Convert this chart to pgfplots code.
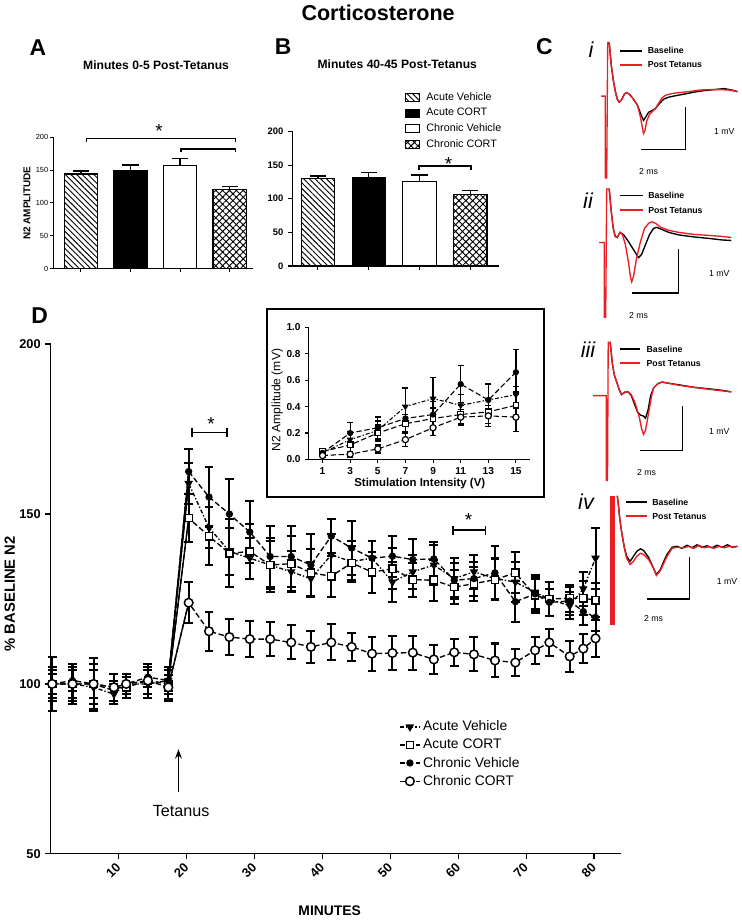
\documentclass[border=0pt]{standalone}
\usepackage{fontspec}
\setmainfont{Liberation Sans}
\usepackage{pgfplots}
\usepackage{pgfplotstable}
\pgfplotsset{compat=1.18}
\usetikzlibrary{patterns.meta,arrows.meta}
\definecolor{tred}{RGB}{235,30,35}
\newcommand{\fs}[1]{\fontsize{#1}{#1}\selectfont}

% ---------- Panel D data (minutes, % baseline, SEM) ----------
\pgfplotstableread{
t v e
0.2 100 5
3.2 100 4
6.3 99 7
9.3 97 3
11.1 100 3
14.3 100 4
17.3 101 4
20.3 159 6
23.3 146 6
26.3 139 7
29.3 137 6
32.3 135 7
35.4 133 6
38.3 131 5
41.3 138 6
44.3 136 6
47.3 137 5
50.3 130 6
53.3 133 5
56.4 135 6
59.4 131 6
62.3 133 5
65.4 131 6
68.4 130 6
71.3 127 5
73.4 125 5
76.4 123 4
78.4 128 5
80.2 137 9
}\dAV
\pgfplotstableread{
t v e
0.2 100 4
3.2 100 5
6.3 100 6
9.3 99 4
11.1 99 3
14.3 101 5
17.3 100 5
20.3 148.8 7
23.3 143.5 8.5
26.3 138.4 10
29.3 139 8
32.3 135 8
35.4 135.4 8
38.3 132.7 7
41.3 131.7 6
44.3 135.6 5
47.3 132.9 6
50.3 133.9 6
53.3 130.7 5
56.4 130.5 6
59.4 128.5 5
62.3 129.5 5
65.4 130.7 6
68.4 132.7 6
71.3 126 5
73.4 125 5
76.4 125.2 4
78.4 125.2 5
80.2 124.7 5
}\dAC
\pgfplotstableread{
t v e
0.2 100 3
3.2 101 3
6.3 100 4
9.3 98 3
11.1 100 2
14.3 102 3
17.3 101 3
20.3 162.5 6.6
23.3 155 8.8
26.3 150 10.4
29.3 144.7 9
32.3 137.5 9
35.4 137.5 9
38.3 135 9
41.3 143.5 5
44.3 140 8
47.3 137 5
50.3 137.6 6
53.3 136.6 6
56.4 136.8 5
59.4 130.5 5
62.3 131 5
65.4 132.7 8
68.4 124.2 6
71.3 126.5 5
73.4 124 4
76.4 124.4 4
78.4 121.3 4
80.2 119.6 4
}\dCV
\pgfplotstableread{
t v e
0.2 100 8
3.2 100 6
6.3 100 7.5
9.3 99 4
11.1 100 3
14.3 101 4
17.3 99 3.5
20.3 123.9 6
23.3 115.5 5.8
26.3 113.8 5.2
29.3 113.2 5.3
32.3 113.2 5
35.4 112.2 5
38.3 110.9 4.7
41.3 112.2 5.3
44.3 110.9 4.2
47.3 108.9 5
50.3 109.1 5
53.3 109.2 5
56.4 107.2 4.4
59.4 109.3 4
62.3 108.7 5
65.4 106.9 5
68.4 106.3 4
71.3 109.9 4
73.4 112.2 4.1
76.4 108.1 4.6
78.4 110.4 4.2
80.2 113.4 5.5
}\dCC

% ---------- Inset data (V, mV, SEM) ----------
\pgfplotstableread{
t v e
1 0.05 0.02
3 0.15 0.06
5 0.22 0.07
7 0.40 0.14
9 0.46 0.16
11 0.41 0.08
13 0.45 0.12
15 0.49 0.06
}\iAV
\pgfplotstableread{
t v e
1 0.06 0.02
3 0.11 0.05
5 0.20 0.06
7 0.27 0.07
9 0.31 0.08
11 0.34 0.07
13 0.36 0.09
15 0.41 0.10
}\iAC
\pgfplotstableread{
t v e
1 0.05 0.02
3 0.20 0.08
5 0.24 0.08
7 0.31 0.10
9 0.34 0.10
11 0.57 0.14
13 0.45 0.12
15 0.66 0.17
}\iCV
\pgfplotstableread{
t v e
1 0.03 0.01
3 0.04 0.02
5 0.08 0.03
7 0.15 0.05
9 0.24 0.06
11 0.32 0.06
13 0.33 0.08
15 0.32 0.11
}\iCC

\pgfplotsset{
  errb/.style={error bars/y dir=both, error bars/y explicit,
    error bars/error bar style={solid,line width=1.5pt,black},
    error bars/error mark options={solid,rotate=90,mark size=3.3pt,line width=1.5pt,black}},
  errs/.style={error bars/y dir=both, error bars/y explicit,
    error bars/error bar style={solid,line width=1pt,black},
    error bars/error mark options={solid,rotate=90,mark size=2.2pt,line width=1pt,black}},
  barerr/.style={error bars/y dir=plus, error bars/y explicit,
    error bars/error bar style={line width=1.1pt,black},
    error bars/error mark options={rotate=90,mark size=6pt,line width=1.1pt,black}},
  avbar/.style={draw=black, line width=0.8pt, pattern={Lines[angle=-45,distance=3pt,line width=0.7pt]}},
  acbar/.style={draw=black, line width=0.8pt, fill=black},
  cvbar/.style={draw=black, line width=0.8pt, fill=white},
  ccbar/.style={draw=black, line width=0.8pt, pattern={Hatch[angle=45,distance=3.6pt,line width=0.7pt]}},
}

\begin{document}
\begin{tikzpicture}
% ================= canvas (pixel coordinates) =================
\begin{axis}[at={(0pt,0pt)}, anchor=south west, scale only axis,
  width=554.25pt, height=690pt, xmin=0, xmax=739, ymin=0, ymax=920,
  y dir=reverse, hide axis, clip=false]
% --- trace i ---
\addplot[black, line width=1pt] coordinates {(606,48)(608,70)(610,85)(612,96)(614,104)(616,107)(618,105)(621,99)(623,97.5)(626,99)(630,104)(634,110)(637,118)(640,125)(642,122)(645,117)(649,115)(652,113)(656,108)(660,104)(665,102)(672,100.5)(680,99)(690,97)(700,95.5)(710,94.5)(720,93.5)(728,95)(733,96.5)};
\addplot[tred, line width=1pt] coordinates {(598,101)(602,101)(602,182)(603.5,182)(604.5,48)(606,48)(608,70)(610,85)(612,96)(614,104)(616,107)(618,105)(621,99)(623,97.5)(626,99)(630,104)(634,110)(637,122)(639,133)(640,138)(641.5,135)(643,126)(646,119)(649,116)(652,113)(655,108)(658,103)(662,100)(668,98.5)(675,97.5)(685,96.5)(695,95)(705,94.5)(715,94.5)(725,95)(733,96.5)};
\addplot[black, line width=0.9pt] coordinates {(637.7,154)(681.7,154)(681.7,112)};
\addplot[black, line width=1.2pt] coordinates {(616.7,56)(638.3,56)};
\addplot[tred, line width=1.2pt] coordinates {(616.7,70)(638.3,70)};
% --- trace ii ---
\addplot[black, line width=1pt] coordinates {(606,193)(608,215)(610,232)(612,240)(614,241)(616.7,236)(620,238)(625,245)(630,253)(635,261)(638,258)(642,248)(646,238)(650,232)(653,231)(658,233)(665,236)(675,238.5)(690,240.5)(705,242)(718,243.5)(727,244)};
\addplot[tred, line width=1pt] coordinates {(596,246)(601,246)(601,320)(602.5,320)(603.5,193)(606,193)(608,215)(610,232)(612,240)(614,241)(616.7,236)(619,238)(622,248)(625,265)(627,280)(628.3,285)(630,280)(633,262)(637,245)(641,232)(645,227)(648.3,225.5)(652,227)(657,231)(665,234)(675,236)(690,238)(705,239)(718,240)(727,241)};
\addplot[black, line width=0.9pt] coordinates {(629,296)(674.3,296)(674.3,252.7)};
\addplot[black, line width=1.2pt] coordinates {(617,199.3)(639,199.3)};
\addplot[tred, line width=1.2pt] coordinates {(617,214)(639,214)};
% --- trace iii ---
\addplot[black, line width=1pt] coordinates {(607,345)(609,365)(611,377)(613.3,384)(616,392)(618.3,396.7)(622,394)(625,394)(628,398)(631,406)(634,414)(637,417)(640,418)(642,420)(644.5,412)(647,398)(650,390)(654,386)(658.3,384.3)(665,385.5)(675,387)(690,389.5)(705,391)(718,392.5)(727,394)};
\addplot[tred, line width=1pt] coordinates {(590,397.7)(603,397.7)(603,481.7)(604.3,481.7)(605,345)(607,345)(609,365)(611,377)(613.3,384)(616,392)(618.3,396.7)(622,394)(625,394)(628,397)(632,406)(636,420)(638,430)(640,436)(642,432)(645,415)(648,398)(650,390)(654,386)(658.3,384.3)(665,385.5)(675,387.5)(690,389.5)(705,391.5)(718,393)(727,394)};
\addplot[black, line width=0.9pt] coordinates {(636.7,452.3)(678.3,452.3)(678.3,408.3)};
\addplot[black, line width=1.2pt] coordinates {(616.7,351.7)(636.7,351.7)};
\addplot[tred, line width=1.2pt] coordinates {(616.7,365.7)(636.7,365.7)};
% --- trace iv ---
\addplot[tred, line width=3.8pt] coordinates {(609.5,497)(609.5,625)};
\addplot[black, line width=1pt] coordinates {(614,497)(615,505)(616.5,520)(618.3,533)(621,548)(623.3,557)(626.7,562)(630,557)(633.3,552)(637,549.5)(640,551)(645,558)(650,569)(652.7,575)(656.7,570)(660,562)(663.3,555)(668.3,548)(673,547)(678,549)(683,546)(688,548.5)(693,545.5)(698,548)(703,546.5)(708,548.5)(713,546)(718,548)(723,545.5)(728,548)(733,547)};
\addplot[tred, line width=1pt] coordinates {(614,497)(615,505)(616.5,520)(618.3,533)(621,549)(623.3,559)(626.7,565)(630,562)(633.3,557)(637,554)(640,555)(645,560)(650,569)(652.7,576)(656.7,571)(660,564)(663.3,557)(668.3,549)(673,548)(680,548.5)(685,547)(690,549)(695,546)(700,548.5)(705,547.5)(710,549)(715,547)(720,548.5)(725,547)(730,548)(733,547)};
\addplot[black, line width=0.9pt] coordinates {(643.3,599.3)(685.7,599.3)(685.7,557.3)};
\addplot[black, line width=1.2pt] coordinates {(623,503.3)(643,503.3)};
\addplot[tred, line width=1.2pt] coordinates {(623,517.3)(643,517.3)};
% --- panel C texts ---
\begin{scope}[font=\bfseries\fs{6.5pt}]
\node[anchor=west] at (axis cs:639.5,56) {Baseline};
\node[anchor=west] at (axis cs:639.5,70) {Post Tetanus};
\node[anchor=west] at (axis cs:640,199.3) {Baseline};
\node[anchor=west] at (axis cs:640,214) {Post Tetanus};
\node[anchor=west] at (axis cs:638.3,351.7) {Baseline};
\node[anchor=west] at (axis cs:638.3,365.7) {Post Tetanus};
\node[anchor=west] at (axis cs:644,503.3) {Baseline};
\node[anchor=west] at (axis cs:644,517.3) {Post Tetanus};
\end{scope}
\begin{scope}[font=\fs{6.5pt}]
\node at (axis cs:720,136) {1 mV};
\node at (axis cs:645,175.7) {2 ms};
\node at (axis cs:715,277) {1 mV};
\node at (axis cs:635,318) {2 ms};
\node at (axis cs:715,433) {1 mV};
\node at (axis cs:643,474) {2 ms};
\node at (axis cs:722.7,581.7) {1 mV};
\node at (axis cs:650,618.3) {2 ms};
\end{scope}
\begin{scope}[font=\itshape\fs{16pt}]
\node at (axis cs:588,55) {i};
\node at (axis cs:585,205) {ii};
\node at (axis cs:585,352) {iii};
\node at (axis cs:583,503) {iv};
\end{scope}
% --- titles and panel letters ---
\node[font=\bfseries\fs{16pt}] at (axis cs:377,18) {Corticosterone};
\begin{scope}[font=\bfseries\fs{17pt}]
\node at (axis cs:40,53) {A};
\node at (axis cs:283,52) {B};
\node at (axis cs:541.7,51.7) {C};
\node at (axis cs:41.7,318.3) {D};
\end{scope}
\node[font=\bfseries\fs{9pt}] at (axis cs:157,70.7) {Minutes 0-5 Post-Tetanus};
\node[font=\bfseries\fs{9pt}] at (axis cs:396,69) {Minutes 40-45 Post-Tetanus};
\node[font=\bfseries\fs{7.4pt}, rotate=90] at (axis cs:29,207) {N2 AMPLITUDE};
\node[font=\bfseries\fs{11pt}, rotate=90] at (axis cs:12,594) {\% BASELINE N2};
\node[font=\bfseries\fs{10.3pt}] at (axis cs:329,908) {MINUTES};
% --- inset frame and labels ---
\draw[line width=1.6pt, fill=white] (axis cs:266.7,312.3) rectangle (axis cs:541.7,498.3);
\node[font=\bfseries\fs{8.5pt}] at (axis cs:418.3,485) {Stimulation Intensity (V)};
\node[font=\fs{9pt}, rotate=90] at (axis cs:277,402) {N2 Amplitude (mV)};
\end{axis}

% ================= Panel A =================
\begin{axis}[at={(41.25pt,486.2pt)}, anchor=south west, scale only axis,
  width=148.5pt, height=97.5pt, xmin=0.44, xmax=4.47, ymin=0, ymax=200,
  axis lines*=left, axis line style={line width=0.8pt}, tick align=outside,
  major tick length=2.5pt, tick style={line width=0.8pt,black},
  xtick={1,2,3,4}, xticklabels={}, ytick={0,50,100,150,200},
  yticklabel style={font=\fs{5.5pt}, inner sep=1pt}, /pgf/number format/assume math mode=true,
  clip=false]
\addplot[ybar, bar width=24.75pt, bar shift=0pt, avbar, barerr] coordinates {(1,144) +- (0,4.5)};
\addplot[ybar, bar width=24.75pt, bar shift=0pt, acbar, barerr] coordinates {(2,150) +- (0,7.5)};
\addplot[ybar, bar width=24.75pt, bar shift=0pt, cvbar, barerr] coordinates {(3,157) +- (0,10.5)};
\addplot[ybar, bar width=24.75pt, bar shift=0pt, ccbar, barerr] coordinates {(4,120.3) +- (0,5)};
\draw[line width=1pt] (axis cs:1.115,192.3) -- (axis cs:1.115,198.5) -- (axis cs:4.115,198.5) -- (axis cs:4.115,192.3);
\draw[line width=1pt] (axis cs:3.02,177) -- (axis cs:3.02,182) -- (axis cs:4.115,182) -- (axis cs:4.115,177);
\node[font=\fs{14pt}] at (axis cs:2.575,210) {*};
\end{axis}

% ================= Panel B =================
\begin{axis}[at={(218.8pt,488pt)}, anchor=south west, scale only axis,
  width=154pt, height=100pt, xmin=0.49, xmax=4.57, ymin=0, ymax=200,
  axis lines*=left, axis line style={line width=0.8pt}, tick align=outside,
  major tick length=3pt, tick style={line width=0.8pt,black},
  xtick={1,2,3,4}, xticklabels={}, ytick={0,50,100,150,200},
  yticklabel style={font=\bfseries\fs{7pt}}, /pgf/number format/assume math mode=true,
  clip=false,
  legend style={at={(0.535,1.32)}, anchor=north west, draw=none, fill=none,
    font=\fs{8pt}, row sep=0.4pt, column sep=2.5pt, cells={anchor=west}, inner sep=1pt},
  legend image code/.code={\draw[#1] (0pt,-3pt) rectangle (11pt,3pt);}]
\addplot[ybar, bar width=24.75pt, bar shift=0pt, avbar, barerr] coordinates {(1,130) +- (0,4)};
\addlegendentry{Acute Vehicle}
\addplot[ybar, bar width=24.75pt, bar shift=0pt, acbar, barerr] coordinates {(2,132) +- (0,7)};
\addlegendentry{Acute CORT}
\addplot[ybar, bar width=24.75pt, bar shift=0pt, cvbar, barerr] coordinates {(3,126) +- (0,9.5)};
\addlegendentry{Chronic Vehicle}
\addplot[ybar, bar width=24.75pt, bar shift=0pt, ccbar, barerr] coordinates {(4,107) +- (0,5)};
\addlegendentry{Chronic CORT}
\draw[line width=1pt] (axis cs:2.99,142.5) -- (axis cs:2.99,148.5) -- (axis cs:4.01,148.5) -- (axis cs:4.01,142.5);
\node[font=\fs{14pt}] at (axis cs:3.57,152) {*};
\end{axis}

% ================= Panel D =================
\begin{axis}[at={(39.5pt,51.2pt)}, anchor=south west, scale only axis,
  width=423.5pt, height=378.75pt, xmin=0, xmax=83.9, ymin=50, ymax=200,
  axis lines*=left, axis line style={line width=1pt}, tick align=outside,
  major tick length=4pt, tick style={line width=1pt,black},
  xtick={10,20,...,80}, ytick={50,100,150,200},
  ticklabel style={font=\bfseries\fs{9.5pt}},
  xticklabel style={anchor=center, xshift=-4pt, yshift=-8.5pt, rotate=45},
  /pgf/number format/assume math mode=true, clip=false,
  legend style={at={(0.604,0.272)}, anchor=north west, draw=none, fill=none,
    font=\fs{10.3pt}, row sep=0.6pt, cells={anchor=west}},
  legend image code/.code={\draw[mark repeat=2,mark phase=2,#1] plot coordinates {(0cm,0cm) (0.26cm,0cm) (0.52cm,0cm)};}]
% solid rise at tetanus (17 -> 20 min)
\addplot[black, line width=1pt, forget plot] coordinates {(17.3,101)(20.3,159)};
\addplot[black, line width=1pt, forget plot] coordinates {(17.3,100)(20.3,148.8)};
\addplot[black, line width=1pt, forget plot] coordinates {(17.3,101)(20.3,162.5)};
\addplot[black, line width=1pt, forget plot] coordinates {(17.3,99)(20.3,123.9)};
\addplot[black, line width=1pt, dash pattern=on 3pt off 1.5pt on 1pt off 1.5pt, mark=triangle*, mark size=2.7pt, mark options={solid,rotate=180}, errb] table[x=t,y=v,y error=e]{\dAV};
\addlegendentry{Acute Vehicle}
\addplot[black, line width=1pt, dash pattern=on 4pt off 2pt, mark=square*, mark size=2.7pt, mark options={solid,fill=white,line width=1.1pt}, errb] table[x=t,y=v,y error=e]{\dAC};
\addlegendentry{Acute CORT}
\addplot[black, line width=1pt, dash pattern=on 4pt off 2pt, mark=*, mark size=2.2pt, mark options={solid}, errb] table[x=t,y=v,y error=e]{\dCV};
\addlegendentry{Chronic Vehicle}
\addplot[black, line width=1pt, dash pattern=on 4pt off 2pt, mark=*, mark size=3.2pt, mark options={solid,fill=white,line width=1.1pt}, errb] table[x=t,y=v,y error=e]{\dCC};
\addlegendentry{Chronic CORT}
% significance brackets
\draw[line width=1.3pt] (axis cs:20.8,174) -- (axis cs:25.95,174);
\draw[line width=1.3pt] (axis cs:20.8,172.7) -- (axis cs:20.8,175.3);
\draw[line width=1.3pt] (axis cs:25.95,172.7) -- (axis cs:25.95,175.3);
\node[font=\fs{14pt}] at (axis cs:23.6,176.5) {*};
\draw[line width=1.3pt] (axis cs:59.2,145.2) -- (axis cs:64.0,145.2);
\draw[line width=1.3pt] (axis cs:59.2,143.9) -- (axis cs:59.2,146.5);
\draw[line width=1.3pt] (axis cs:64.0,143.9) -- (axis cs:64.0,146.5);
\node[font=\fs{14pt}] at (axis cs:61.5,148.2) {*};
% tetanus arrow
\draw[-{Stealth[length=7pt,width=5pt]}, line width=1.3pt] (axis cs:18.8,68.3) -- (axis cs:18.8,80.8);
\node[font=\fs{12pt}] at (axis cs:19.2,62.7) {Tetanus};
\end{axis}

% ================= Inset =================
\begin{axis}[at={(231.2pt,344.25pt)}, anchor=south west, scale only axis,
  width=164.25pt, height=98.25pt, xmin=0, xmax=16, ymin=0, ymax=1,
  axis lines*=left, axis line style={line width=0.8pt}, tick align=outside,
  major tick length=2.5pt, tick style={line width=0.8pt,black},
  xtick={1,3,5,7,9,11,13,15}, ytick={0,0.2,0.4,0.6,0.8,1.0},
  ticklabel style={font=\bfseries\fs{7.5pt}},
  yticklabel style={/pgf/number format/.cd, fixed, fixed zerofill, precision=1},
  /pgf/number format/assume math mode=true, clip=false]
\addplot[black, line width=0.8pt, dash pattern=on 3pt off 1.5pt on 1pt off 1.5pt, mark=triangle*, mark size=2.1pt, mark options={solid,rotate=180}, errs] table[x=t,y=v,y error=e]{\iAV};
\addplot[black, line width=0.8pt, dash pattern=on 4pt off 2pt, mark=square*, mark size=2.1pt, mark options={solid,fill=white,line width=0.9pt}, errs] table[x=t,y=v,y error=e]{\iAC};
\addplot[black, line width=0.8pt, dash pattern=on 4pt off 2pt, mark=*, mark size=1.9pt, mark options={solid}, errs] table[x=t,y=v,y error=e]{\iCV};
\addplot[black, line width=0.8pt, dash pattern=on 4pt off 2pt, mark=*, mark size=2.3pt, mark options={solid,fill=white,line width=0.9pt}, errs] table[x=t,y=v,y error=e]{\iCC};
\end{axis}
\end{tikzpicture}
\end{document}
